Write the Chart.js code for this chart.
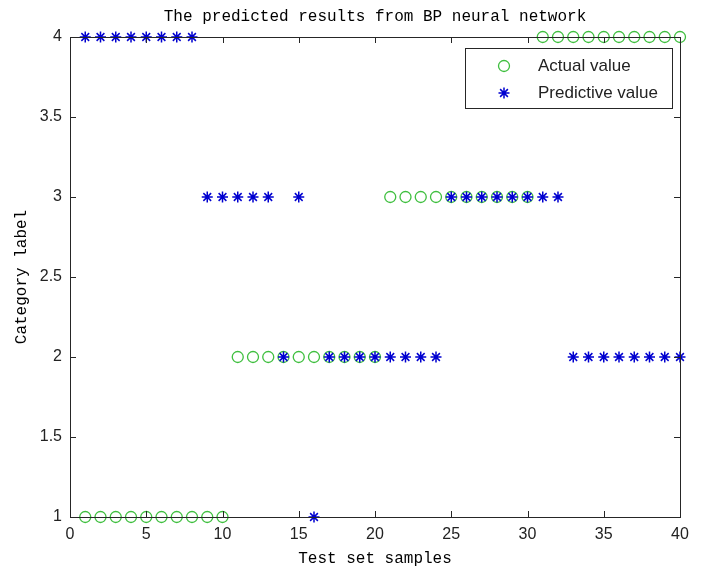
<!DOCTYPE html>
<html>
<head>
<meta charset="utf-8">
<script src="https://cdn.jsdelivr.net/npm/chart.js@4/dist/chart.umd.min.js"></script>
<style>
html,body{margin:0;padding:0;background:#fff;}
#wrap{width:701px;height:570px;position:relative;}
</style>
</head>
<body>
<div id="wrap"><canvas id="c" width="701" height="570"></canvas></div>
<script>
const titleText = 'The predicted results from BP neural network';
const xAxisLabel = 'Test set samples';
const yAxisLabel = 'Category label';
const seriesNames = ['Actual value', 'Predictive value'];
const samples = [1,2,3,4,5,6,7,8,9,10,11,12,13,14,15,16,17,18,19,20,21,22,23,24,25,26,27,28,29,30,31,32,33,34,35,36,37,38,39,40];
const actualValues = [1,1,1,1,1,1,1,1,1,1, 2,2,2,2,2,2,2,2,2,2, 3,3,3,3,3,3,3,3,3,3, 4,4,4,4,4,4,4,4,4,4];
const predictedValues = [4,4,4,4,4,4,4,4, 3,3,3,3,3, 2, 3, 1, 2,2,2,2,2,2,2,2, 3,3,3,3,3,3,3,3, 2,2,2,2,2,2,2,2];
const xTicks = [0,5,10,15,20,25,30,35,40];
const yTicks = [1,1.5,2,2.5,3,3.5,4];

const GREEN = '#3fbf3f';
const BLUE = '#0000d0';
const AXIS = '#262626';
const MONO = '16px "Liberation Mono", "DejaVu Sans Mono", monospace';

const toPts = (xs, ys) => xs.map((x, i) => ({x: x, y: ys[i]}));

const framePlugin = {
  id: 'frame',
  afterDraw(chart) {
    const ctx = chart.ctx;
    const a = chart.chartArea;
    const xs = chart.scales.x, ys = chart.scales.y;
    ctx.save();
    ctx.strokeStyle = AXIS;
    ctx.lineWidth = 1;
    ctx.strokeRect(Math.round(a.left) + 0.5, Math.round(a.top) + 0.5, Math.round(a.right - a.left), Math.round(a.bottom - a.top));
    const tl = 6;
    ctx.beginPath();
    xTicks.forEach(v => {
      const px = Math.round(xs.getPixelForValue(v)) + 0.5;
      ctx.moveTo(px, a.bottom); ctx.lineTo(px, a.bottom - tl);
      ctx.moveTo(px, a.top); ctx.lineTo(px, a.top + tl);
    });
    yTicks.forEach(v => {
      const py = Math.round(ys.getPixelForValue(v)) + 0.5;
      ctx.moveTo(a.left, py); ctx.lineTo(a.left + tl, py);
      ctx.moveTo(a.right, py); ctx.lineTo(a.right - tl, py);
    });
    ctx.stroke();

    // title & axis labels
    ctx.fillStyle = '#000';
    ctx.font = MONO;
    ctx.textAlign = 'center';
    ctx.textBaseline = 'middle';
    ctx.fillText(titleText, (a.left + a.right) / 2, 17);
    ctx.fillText(xAxisLabel, (a.left + a.right) / 2, 559);
    ctx.save();
    ctx.translate(22, (a.top + a.bottom) / 2);
    ctx.rotate(-Math.PI / 2);
    ctx.fillText(yAxisLabel, 0, 0);
    ctx.restore();

    // legend
    const lx = 465, ly = 48, lw = 207, lh = 60;
    ctx.fillStyle = '#fff';
    ctx.fillRect(lx, ly, lw, lh);
    ctx.strokeStyle = AXIS;
    ctx.strokeRect(lx + 0.5, ly + 0.5, lw, lh);
    const rows = [66, 93];
    chart.data.datasets.forEach((ds, i) => {
      ctx.strokeStyle = ds.borderColor;
      ctx.fillStyle = ds.backgroundColor;
      ctx.lineWidth = ds.borderWidth;
      Chart.helpers.drawPoint(ctx, {pointStyle: ds.pointStyle, radius: ds.pointRadius, borderWidth: ds.borderWidth, rotation: 0}, 504, rows[i]);
      ctx.fillStyle = '#222';
      ctx.font = '17px "Liberation Sans", Arial, sans-serif';
      ctx.textAlign = 'left';
      ctx.textBaseline = 'middle';
      ctx.fillText(ds.label, 538, rows[i]);
    });
    ctx.restore();
  }
};

const tickFont = {family: '"Liberation Sans", Arial, sans-serif', size: 16};

new Chart(document.getElementById('c'), {
  type: 'scatter',
  data: {
    datasets: [
      {
        label: seriesNames[0],
        data: toPts(samples, actualValues),
        pointStyle: 'circle',
        pointRadius: 5.5,
        pointHoverRadius: 5.5,
        borderColor: GREEN,
        backgroundColor: 'rgba(0,0,0,0)',
        borderWidth: 1.3,
        order: 1,
        clip: false
      },
      {
        label: seriesNames[1],
        data: toPts(samples, predictedValues),
        pointStyle: 'star',
        pointRadius: 5.5,
        pointHoverRadius: 5.5,
        borderColor: BLUE,
        backgroundColor: BLUE,
        borderWidth: 1.5,
        order: 0,
        clip: false
      }
    ]
  },
  options: {
    responsive: false,
    animation: false,
    events: [],
    layout: {padding: {top: 37, right: 21, left: 0, bottom: 0}},
    plugins: {legend: {display: false}, tooltip: {enabled: false}, title: {display: false}},
    scales: {
      x: {
        type: 'linear', min: 0, max: 40,
        afterBuildTicks: s => { s.ticks = xTicks.map(v => ({value: v})); },
        afterFit: s => { s.height = 53; },
        grid: {display: false, drawTicks: false},
        border: {display: false},
        ticks: {color: '#222', font: tickFont, padding: 8, maxRotation: 0, callback: v => String(v)}
      },
      y: {
        type: 'linear', min: 1, max: 4,
        afterBuildTicks: s => { s.ticks = yTicks.map(v => ({value: v})); },
        afterFit: s => { s.width = 70; },
        grid: {display: false, drawTicks: false},
        border: {display: false},
        ticks: {color: '#222', font: tickFont, padding: 8, callback: v => String(v)}
      }
    }
  },
  plugins: [framePlugin]
});
</script>
</body>
</html>
